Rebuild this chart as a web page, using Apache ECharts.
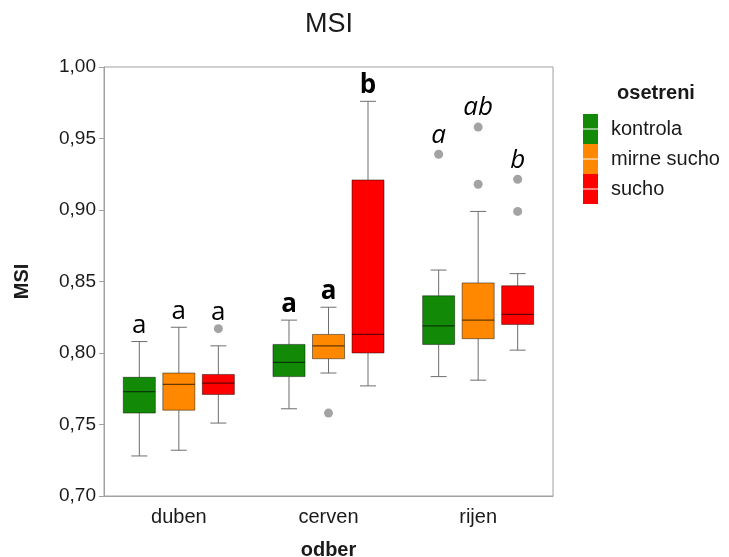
<!DOCTYPE html>
<html>
<head>
<meta charset="utf-8">
<script src="https://cdn.jsdelivr.net/npm/echarts@6/dist/echarts.min.js"></script>
<style>html,body{margin:0;padding:0;background:#fff}#c{width:729px;height:557px}</style>
</head>
<body>
<div id="c"></div>
<script>
// ---- data ----
const categories = ['duben', 'cerven', 'rijen'];
const treatments = ['kontrola', 'mirne sucho', 'sucho'];
// [min, Q1, median, Q3, max] per category
const kontrola = [
  [0.728, 0.758, 0.773, 0.783, 0.808],
  [0.761, 0.7835, 0.7935, 0.806, 0.823],
  [0.7835, 0.806, 0.819, 0.840, 0.858]
];
const mirneSucho = [
  [0.732, 0.760, 0.778, 0.786, 0.818],
  [0.786, 0.796, 0.805, 0.813, 0.832],
  [0.781, 0.810, 0.823, 0.849, 0.899]
];
const sucho = [
  [0.751, 0.771, 0.779, 0.785, 0.805],
  [0.777, 0.800, 0.813, 0.921, 0.976],
  [0.802, 0.820, 0.827, 0.847, 0.8555]
];
// outliers per category
const kontrolaOut = [[], [], [0.939]];
const mirneSuchoOut = [[], [0.758], [0.958, 0.918]];
const suchoOut = [[0.817], [], [0.9215, 0.899]];
// significance letters per category, per treatment
const letters = [
  ['a', 'a', 'a'],
  ['a', 'a', 'b'],
  ['a', 'ab', 'b']
];
const letterStyles = ['normal', 'bold', 'italic'];
const yTicks = { min: 0.70, max: 1.00, step: 0.05 };

// ---- styling ----
const colors = ['#138A07', '#FF8800', '#FF0000'];
const boxData = [kontrola, mirneSucho, sucho];
const outData = [kontrolaOut, mirneSuchoOut, suchoOut];
const FONT = '"Liberation Sans", Arial, sans-serif';
const LFONT = '"Open Sans", "Liberation Sans", sans-serif';

function boxRender(tIdx) {
  return function (params, api) {
    const cat = api.value(0);
    const band = api.size([1, 0])[0];
    const off = (tIdx - 1) * band * 0.264;
    const bw = band * 0.214;
    const cap = bw * 0.5;
    const x = api.coord([cat, api.value(1)])[0] + off;
    const y = i => api.coord([cat, api.value(i)])[1];
    const yMin = y(1), yQ1 = y(2), yMed = y(3), yQ3 = y(4), yMax = y(5);
    const wStyle = { stroke: '#6e6e6e', lineWidth: 1 };
    const children = [
      { type: 'line', shape: { x1: x, y1: yMax, x2: x, y2: yQ3 }, style: wStyle },
      { type: 'line', shape: { x1: x, y1: yQ1, x2: x, y2: yMin }, style: wStyle },
      { type: 'line', shape: { x1: x - cap / 2, y1: yMax, x2: x + cap / 2, y2: yMax }, style: wStyle },
      { type: 'line', shape: { x1: x - cap / 2, y1: yMin, x2: x + cap / 2, y2: yMin }, style: wStyle },
      { type: 'rect', shape: { x: x - bw / 2, y: yQ3, width: bw, height: yQ1 - yQ3 },
        style: { fill: colors[tIdx], stroke: 'rgba(0,0,0,0.45)', lineWidth: 1 } },
      { type: 'line', shape: { x1: x - bw / 2, y1: yMed, x2: x + bw / 2, y2: yMed },
        style: { stroke: 'rgba(0,0,0,0.6)', lineWidth: 1.2 } }
    ];
    // letter above the highest point
    const outs = outData[tIdx][cat];
    let topVal = api.value(5);
    outs.forEach(v => { if (v > topVal) topVal = v; });
    const yTop = api.coord([cat, topVal])[1];
    const st = letterStyles[cat];
    children.push({
      type: 'text',
      x: x, y: yTop - (st === 'italic' ? 19 : 16),
      style: {
        text: letters[cat][tIdx],
        textAlign: 'center', textVerticalAlign: 'middle',
        fontFamily: LFONT, fontSize: 26,
        fontWeight: st === 'bold' ? 'bold' : 'normal',
        fontStyle: st === 'italic' ? 'italic' : 'normal',
        fill: '#000'
      }
    });
    return { type: 'group', children: children };
  };
}

const series = [];
treatments.forEach((name, t) => {
  series.push({
    type: 'custom',
    name: name,
    itemStyle: { color: colors[t] },
    renderItem: boxRender(t),
    encode: { x: 0, y: [1, 2, 3, 4, 5] },
    data: boxData[t].map((v, i) => [i].concat(v)),
    z: 2
  });
});
const outPoints = [];
outData.forEach((perCat, t) => perCat.forEach((vals, c) => vals.forEach(v => outPoints.push([c, t, v]))));
series.push({
  type: 'custom',
  name: 'outliers',
  renderItem: function (params, api) {
    const cat = api.value(0), t = api.value(1);
    const band = api.size([1, 0])[0];
    const p = api.coord([cat, api.value(2)]);
    return { type: 'circle', shape: { cx: p[0] + (t - 1) * band * 0.264, cy: p[1], r: 4.5 },
      style: { fill: '#a3a3a3' } };
  },
  encode: { x: 0, y: 2 },
  data: outPoints,
  z: 3
});

const chart = echarts.init(document.getElementById('c'), null, { renderer: 'canvas' });
chart.setOption({
  animation: false,
  backgroundColor: '#fff',
  grid: { left: 104, top: 67, right: 176, bottom: 61, show: true, borderColor: '#a0a0a0', borderWidth: 1,
    containLabel: false, outerBoundsMode: 'none' },
  graphic: [
    { type: 'text', x: 329, y: 25, style: { text: 'MSI', textAlign: 'center', textVerticalAlign: 'middle',
      fontFamily: FONT, fontSize: 27, fill: '#1a1a1a' } },
    { type: 'text', x: 656, y: 93, style: { text: 'osetreni', textAlign: 'center', textVerticalAlign: 'middle',
      fontFamily: FONT, fontSize: 20, fontWeight: 'bold', fill: '#1a1a1a' } }
  ],
  legend: {
    data: treatments,
    orient: 'vertical',
    left: 583, top: 114,
    padding: 0,
    itemWidth: 15, itemHeight: 30, itemGap: 0,
    icon: 'path://M0,0H15V14.4H0Z M0,15.6H15V30H0Z',
    textStyle: { fontFamily: FONT, fontSize: 20, color: '#1a1a1a', padding: [5, 0, 0, 8] },
    selectedMode: false
  },
  xAxis: {
    type: 'category',
    data: categories,
    boundaryGap: true,
    name: 'odber',
    nameLocation: 'middle',
    nameGap: 44,
    nameTextStyle: { fontFamily: FONT, fontSize: 20, fontWeight: 'bold', color: '#1a1a1a' },
    axisLine: { lineStyle: { color: '#a0a0a0' } },
    axisTick: { alignWithLabel: true, length: 5, lineStyle: { color: '#a0a0a0' } },
    axisLabel: { fontFamily: FONT, fontSize: 20, color: '#1a1a1a', margin: 11 }
  },
  yAxis: {
    type: 'value',
    min: yTicks.min, max: yTicks.max, interval: yTicks.step,
    name: 'MSI',
    nameLocation: 'middle',
    nameGap: 72,
    nameTextStyle: { fontFamily: FONT, fontSize: 20, fontWeight: 'bold', color: '#1a1a1a' },
    axisLine: { show: true, lineStyle: { color: '#a0a0a0' } },
    axisTick: { show: true, length: 5, lineStyle: { color: '#a0a0a0' } },
    splitLine: { show: false },
    axisLabel: { fontFamily: FONT, fontSize: 19, color: '#1a1a1a', margin: 8,
      formatter: v => v.toFixed(2).replace('.', ',') }
  },
  series: series
});
</script>
</body>
</html>
